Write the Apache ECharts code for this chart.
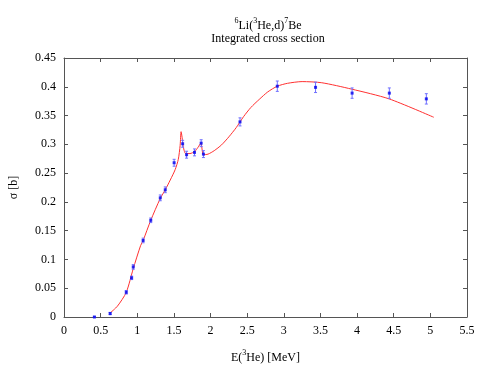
<!DOCTYPE html>
<html>
<head>
<meta charset="utf-8">
<script src="https://cdn.jsdelivr.net/npm/echarts@6/dist/echarts.min.js"></script>
<style>
  html, body { margin: 0; padding: 0; background: #fff; }
  #chart { width: 485px; height: 377px; }
</style>
</head>
<body>
<div id="chart"></div>
<script>
// measured points: energy [MeV], sigma [b], error [b]
const energy = [0.415, 0.630, 0.850, 0.923, 0.945, 1.080, 1.184, 1.314, 1.382, 1.503, 1.619, 1.673, 1.781, 1.872, 1.903, 2.402, 2.911, 3.433, 3.932, 4.440, 4.945]
const sigma = [0.000, 0.006, 0.043, 0.068, 0.087, 0.133, 0.168, 0.207, 0.221, 0.268, 0.301, 0.282, 0.286, 0.302, 0.283, 0.339, 0.401, 0.399, 0.389, 0.389, 0.379]
const sigmaErr = [0.000, 0.002, 0.003, 0.003, 0.004, 0.004, 0.004, 0.005, 0.005, 0.006, 0.006, 0.006, 0.006, 0.006, 0.006, 0.007, 0.009, 0.009, 0.009, 0.009, 0.009]

// fitted curve (red)
const fitE = [0.630, 0.730, 0.850, 0.945, 1.045, 1.080, 1.184, 1.314, 1.382, 1.450, 1.517, 1.560, 1.585, 1.598, 1.612, 1.625, 1.660, 1.719, 1.787, 1.830, 1.868, 1.903, 1.966, 2.050, 2.150, 2.250, 2.350, 2.450, 2.550, 2.664, 2.780, 2.911, 3.050, 3.250, 3.518, 3.923, 4.436, 5.047]
const fitS = [0.007, 0.019, 0.043, 0.084, 0.124, 0.133, 0.168, 0.206, 0.221, 0.238, 0.256, 0.274, 0.298, 0.322, 0.312, 0.298, 0.284, 0.284, 0.288, 0.295, 0.302, 0.282, 0.283, 0.289, 0.299, 0.313, 0.329, 0.348, 0.364, 0.378, 0.391, 0.401, 0.406, 0.409, 0.407, 0.396, 0.379, 0.347]

const xTicks = { min: 0, max: 5.5, interval: 0.5 }
const yTicks = { min: 0, max: 0.45, interval: 0.05 }

const serif = '"Liberation Serif", "DejaVu Serif", serif'
const axisColor = '#555'

const chart = echarts.init(document.getElementById('chart'))

const points = energy.map((e, i) => [e, sigma[i]])
const errors = energy.map((e, i) => [e, sigma[i] - sigmaErr[i], sigma[i] + sigmaErr[i]])
const fit = fitE.map((e, i) => [e, fitS[i]])

const supRich = {
  n: { fontFamily: serif, fontSize: 12, fontWeight: 'normal', color: '#000', lineHeight: 15, verticalAlign: 'bottom' },
  s: { fontFamily: serif, fontSize: 8, fontWeight: 'normal', color: '#000', lineHeight: 15, verticalAlign: 'top' }
}

const commonX = {
  type: 'value',
  min: xTicks.min,
  max: xTicks.max,
  interval: xTicks.interval,
  axisLine: { show: true, onZero: false, lineStyle: { color: axisColor } },
  axisTick: { show: true, inside: true, length: 4, lineStyle: { color: axisColor } },
  splitLine: { show: false }
}
const commonY = {
  type: 'value',
  min: yTicks.min,
  max: yTicks.max,
  interval: yTicks.interval,
  axisLine: { show: true, onZero: false, lineStyle: { color: axisColor } },
  axisTick: { show: true, inside: true, length: 4, lineStyle: { color: axisColor } },
  splitLine: { show: false }
}

const option = {
  animation: false,
  textStyle: { fontFamily: serif },
  title: {
    left: 263,
    top: 12,
    textAlign: 'center',
    text: '{s|6}{n|Li(}{s|3}{n|He,d)}{s|7}{n|Be}',
    subtext: 'Integrated cross section',
    itemGap: 0,
    textStyle: { fontWeight: 'normal', rich: supRich },
    subtextStyle: { fontFamily: serif, fontSize: 12, color: '#000', lineHeight: 14 }
  },
  grid: { left: 60, right: 18, top: 58, bottom: 60 },
  xAxis: [
    Object.assign({}, commonX, {
      position: 'bottom',
      name: '{n|E(}{s|3}{n|He) [MeV]}',
      nameLocation: 'middle',
      nameGap: 32,
      nameTextStyle: { rich: supRich },
      axisLabel: { fontFamily: serif, fontSize: 12, color: '#000', margin: 8 }
    }),
    Object.assign({}, commonX, { position: 'top', axisLabel: { show: false } })
  ],
  yAxis: [
    Object.assign({}, commonY, {
      position: 'left',
      name: 'σ [b]',
      nameLocation: 'middle',
      nameGap: 44,
      nameTextStyle: { fontFamily: serif, fontSize: 12, color: '#000' },
      axisLabel: { fontFamily: serif, fontSize: 12, color: '#000', margin: 8 }
    }),
    Object.assign({}, commonY, { position: 'right', axisLabel: { show: false } })
  ],
  series: [
    {
      type: 'line',
      data: fit,
      smooth: 0.25,
      showSymbol: false,
      lineStyle: { color: '#ff3030', width: 1 },
      z: 2
    },
    {
      type: 'custom',
      data: errors,
      renderItem: (params, api) => {
        const x = api.value(0)
        const lo = api.coord([x, api.value(1)])
        const hi = api.coord([x, api.value(2)])
        const cap = 1.5
        const style = { stroke: '#7070ff', lineWidth: 1 }
        return {
          type: 'group',
          children: [
            { type: 'line', shape: { x1: lo[0], y1: lo[1], x2: hi[0], y2: hi[1] }, style },
            { type: 'line', shape: { x1: lo[0] - cap, y1: lo[1], x2: lo[0] + cap, y2: lo[1] }, style },
            { type: 'line', shape: { x1: hi[0] - cap, y1: hi[1], x2: hi[0] + cap, y2: hi[1] }, style }
          ]
        }
      },
      z: 3
    },
    {
      type: 'scatter',
      data: points,
      symbol: 'rect',
      symbolSize: 3,
      itemStyle: { color: '#0000ee' },
      z: 4
    }
  ]
}

chart.setOption(option)
</script>
</body>
</html>
